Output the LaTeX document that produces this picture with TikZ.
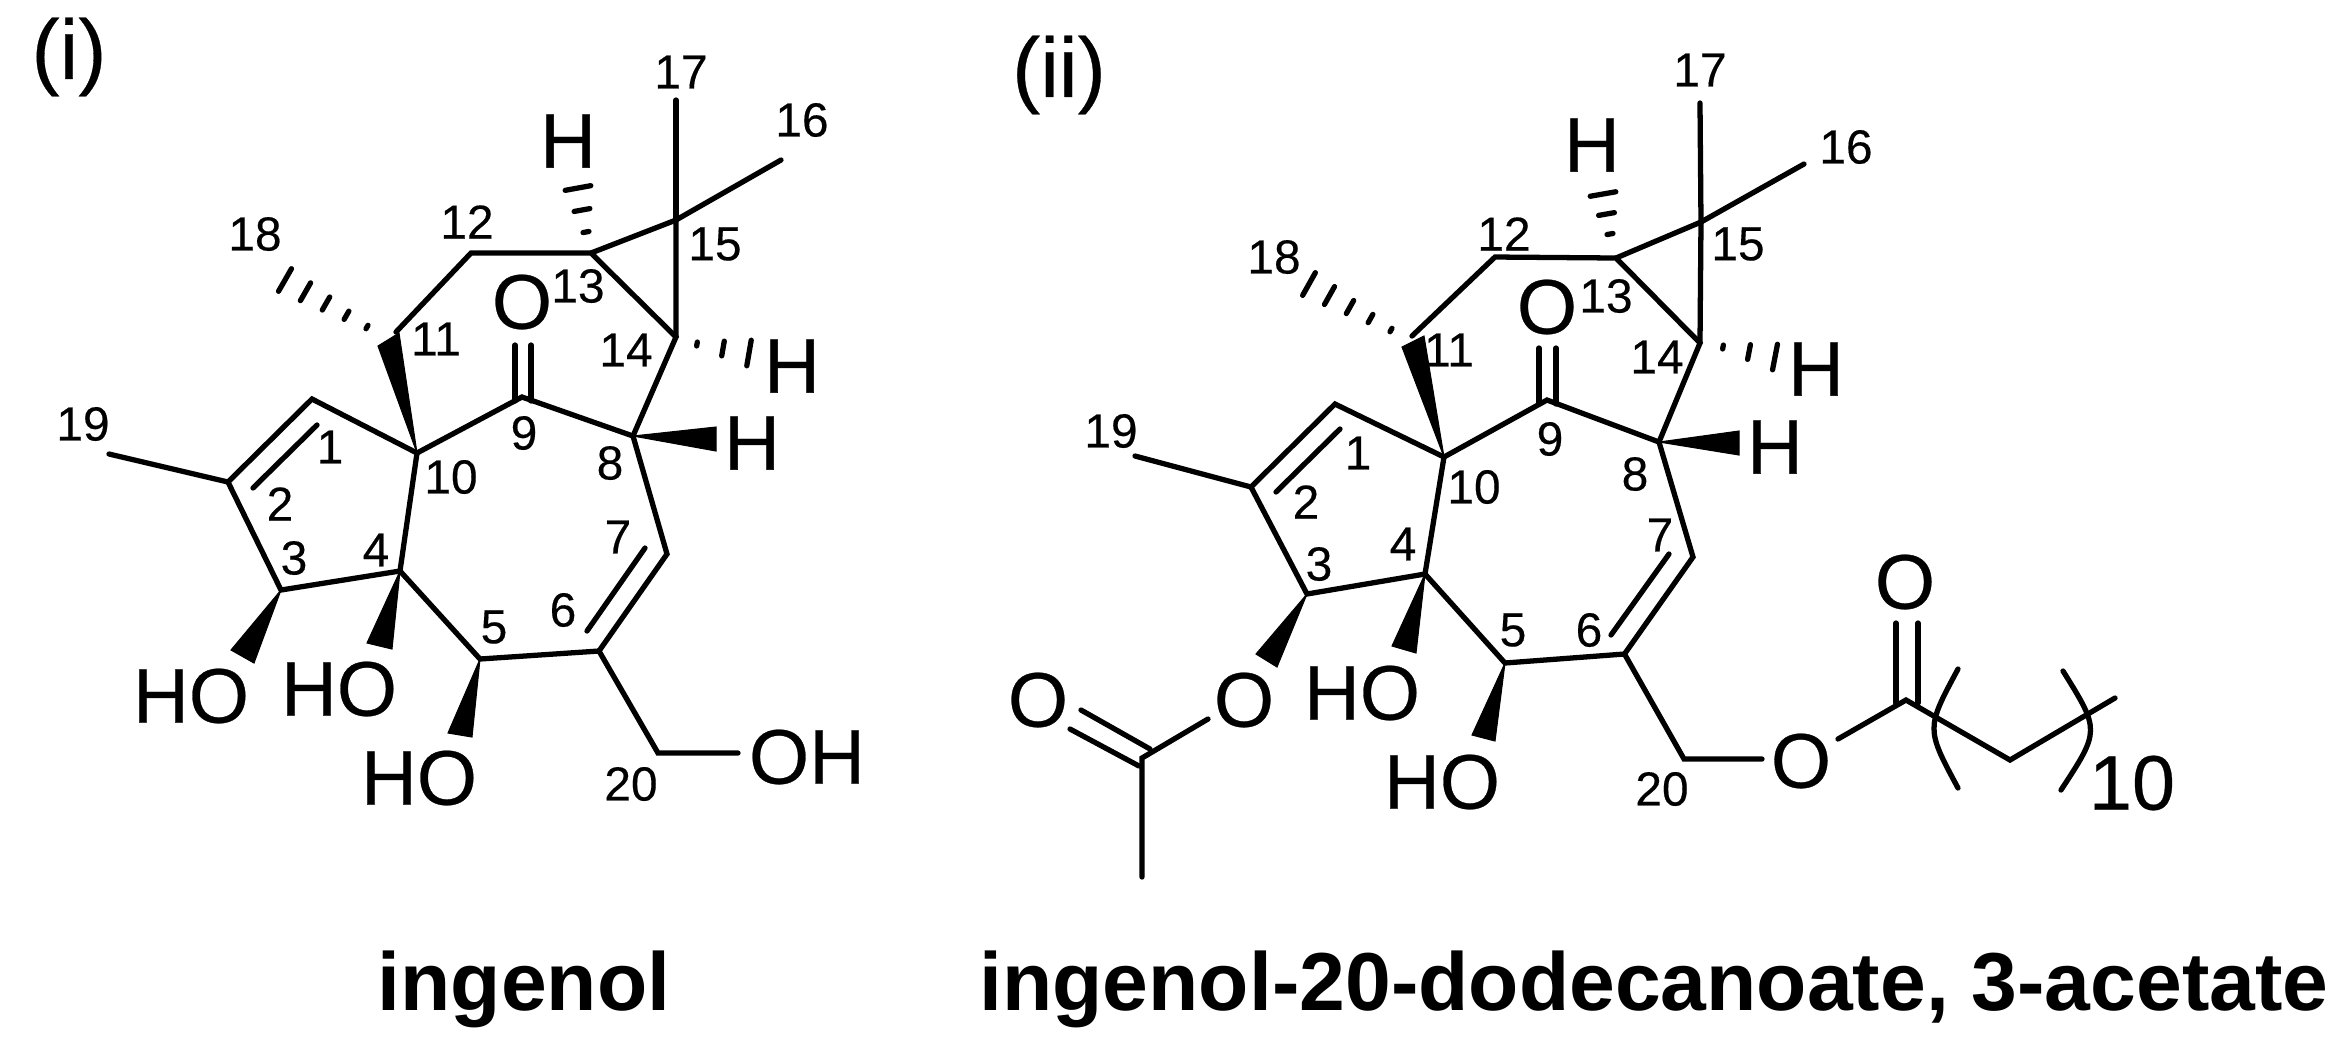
\documentclass[tikz,border=0pt]{standalone}
\usepackage{fontspec}
\setmainfont{Liberation Sans}
\newfontfamily\chemf[FakeBold=0.35]{Liberation Sans}
\usetikzlibrary{calc}
\tikzset{
  lab/.style={inner sep=0pt,font=\chemf\fontsize{13.6}{15}\selectfont},
  big/.style={inner sep=0pt,font=\chemf\fontsize{22}{24}\selectfont},
  tag/.style={inner sep=0pt,font=\chemf\fontsize{24}{26}\selectfont},
  ttl/.style={inner sep=0pt,anchor=base,font=\fontsize{23.4}{26}\selectfont\bfseries},
  bond/.style={line width=1.5pt,line cap=round,line join=miter,black},
  hashstroke/.style={line width=1.5pt,line cap=round,black},
  wedge/.style={fill=black,draw=black,line width=0.3pt,line join=miter},
}
\newcommand\hashbond[5]{%
  \coordinate (tmpc) at ($(#1)!1.5!(#2)$);
  \foreach \k in {0,...,#3}{%
    \pgfmathsetmacro\t{\k/#3/1.5}%
    \pgfmathsetmacro\h{(#4+(#5-#4)*\k/#3)*0.2845}%
    \draw[hashstroke] ($(#1)!\t!(tmpc)!\h pt!90:(tmpc)$) -- ($(#1)!\t!(tmpc)!\h pt!-90:(tmpc)$);
  }%
}
\begin{document}
\begin{tikzpicture}[x=0.01cm,y=-0.01cm]
\useasboundingbox (0,0) rectangle (2347,1050);
% ---------- molecule (i) ----------
\coordinate (a1) at (312,399);
\coordinate (a2) at (228,482);
\coordinate (a3) at (281,590);
\coordinate (a4) at (400,571);
\coordinate (a5) at (480,659);
\coordinate (a6) at (599,651);
\coordinate (a7) at (667,554);
\coordinate (a8) at (633,436);
\coordinate (a9) at (522,397);
\coordinate (a10) at (417,453);
\coordinate (a11) at (396,332);
\coordinate (a12) at (471,253);
\coordinate (a13) at (591,253);
\coordinate (a14) at (676,337);
\coordinate (a15) at (676,220);
\coordinate (a16) at (781,160);
\coordinate (a17) at (676,100);
\coordinate (a19) at (109,454);
\coordinate (a20) at (658,753);
\coordinate (aOH) at (738,753);
\coordinate (ad1a) at (317,425);
\coordinate (ad1b) at (253,488);
\coordinate (ad6a) at (645,548);
\coordinate (ad6b) at (587,631);
\coordinate (aco1a) at (515,345);
\coordinate (aco1b) at (515,401);
\coordinate (aco2a) at (531,345);
\coordinate (aco2b) at (531,401);
\draw[bond] (a10) -- (a1) -- (a2) -- (a3) -- (a4) -- (a10);
\draw[bond] (ad1a) -- (ad1b);
\draw[bond] (a2) -- (a19);
\draw[bond] (a4) -- (a5) -- (a6) -- (a7) -- (a8) -- (a9) -- (a10);
\draw[bond] (ad6a) -- (ad6b);
\draw[bond] (a8) -- (a14) -- (a13) -- (a12) -- (a11);
\draw[bond] (a13) -- (a15) -- (a14);
\draw[bond] (a15) -- (a17);
\draw[bond] (a15) -- (a16);
\draw[bond] (a6) -- (a20) -- (aOH);
\draw[bond] (aco1a) -- (aco1b);
\draw[bond] (aco2a) -- (aco2b);
\coordinate (aw3a) at (231,650); \coordinate (aw3b) at (254,663);
\coordinate (aw4a) at (367,643); \coordinate (aw4b) at (392,649);
\coordinate (aw5a) at (448,733); \coordinate (aw5b) at (472,737);
\coordinate (aw8a) at (716,427); \coordinate (aw8b) at (716,451);
\coordinate (aw11a) at (378,346); \coordinate (aw11b) at (399,333);
\fill[wedge] (a3) -- (aw3a) -- (aw3b) -- cycle;
\fill[wedge] (a4) -- (aw4a) -- (aw4b) -- cycle;
\fill[wedge] (a5) -- (aw5a) -- (aw5b) -- cycle;
\fill[wedge] (a8) -- (aw8a) -- (aw8b) -- cycle;
\fill[wedge] (a10) -- (aw11a) -- (aw11b) -- cycle;
\coordinate (ah18n) at (367,327); \coordinate (ah18f) at (285,280);
\coordinate (ah13n) at (586,232); \coordinate (ah13f) at (578,188);
\coordinate (ah14n) at (697,344); \coordinate (ah14f) at (749,353);
\hashbond{ah18n}{ah18f}{4}{2}{13}
\hashbond{ah13n}{ah13f}{2}{3}{13}
\hashbond{ah14n}{ah14f}{2}{2}{13}
\node[tag] (ti) at (69,57) {(i)};
\node[lab] (al17) at (681,72) {17};
\node[lab] (al16) at (802,120) {16};
\node[big] (aH13) at (568,141) {H};
\node[lab] (al18) at (255,234) {18};
\node[lab] (al12) at (467,222) {12};
\node[lab] (al15) at (715,244) {15};
\node[big] (aO9) at (522,302) {O};
\node[lab] (al13) at (578,286) {13};
\node[lab] (al11) at (436,339) {11};
\node[lab] (al14) at (626,350) {14};
\node[big] (aH14) at (792,366) {H};
\node[lab] (al19) at (83,424) {19};
\node[big] (aH8) at (752,443) {H};
\node[lab] (al1) at (330,447) {1};
\node[lab] (al9) at (524,433) {9};
\node[lab] (al8) at (610,463) {8};
\node[lab] (al10) at (451,477) {10};
\node[lab] (al2) at (280,504) {2};
\node[lab] (al7) at (618,537) {7};
\node[lab] (al3) at (294,558) {3};
\node[lab] (al4) at (376,550) {4};
\node[lab] (al6) at (563,610) {6};
\node[lab] (al5) at (494,627) {5};
\node[big] (aHO3) at (191,696) {HO};
\node[big] (aHO4) at (339,689) {HO};
\node[big] (aHO5) at (419,778) {HO};
\node[big] (aOH20) at (807,757) {OH};
\node[lab] (al20) at (631,784) {20};
\node[ttl] (tA) at (524,1010) {ingenol};
% ---------- molecule (ii) ----------
\coordinate (b1) at (1335,404);
\coordinate (b2) at (1251,487);
\coordinate (b3) at (1307,594);
\coordinate (b4) at (1425,574);
\coordinate (b5) at (1505,663);
\coordinate (b6) at (1624.5,654);
\coordinate (b7) at (1693,557);
\coordinate (b8) at (1659,442);
\coordinate (b9) at (1547,400);
\coordinate (b10) at (1444,457);
\coordinate (b11) at (1412,336);
\coordinate (b12) at (1495,257);
\coordinate (b13) at (1616,258);
\coordinate (b14) at (1700,343);
\coordinate (b15) at (1701,222);
\coordinate (b16) at (1804,164);
\coordinate (b17) at (1700,103);
\coordinate (b19) at (1135,456);
\coordinate (b20) at (1684,759);
\coordinate (bO20e) at (1762,759);
\coordinate (bd1a) at (1340,429);
\coordinate (bd1b) at (1276,492);
\coordinate (bd6a) at (1669,554);
\coordinate (bd6b) at (1611,635);
\coordinate (bco1a) at (1539,348);
\coordinate (bco1b) at (1539,404);
\coordinate (bco2a) at (1556,348);
\coordinate (bco2b) at (1556,404);
\draw[bond] (b10) -- (b1) -- (b2) -- (b3) -- (b4) -- (b10);
\draw[bond] (bd1a) -- (bd1b);
\draw[bond] (b2) -- (b19);
\draw[bond] (b4) -- (b5) -- (b6) -- (b7) -- (b8) -- (b9) -- (b10);
\draw[bond] (bd6a) -- (bd6b);
\draw[bond] (b8) -- (b14) -- (b13) -- (b12) -- (b11);
\draw[bond] (b13) -- (b15) -- (b14);
\draw[bond] (b15) -- (b17);
\draw[bond] (b15) -- (b16);
\draw[bond] (b6) -- (b20) -- (bO20e);
\draw[bond] (bco1a) -- (bco1b);
\draw[bond] (bco2a) -- (bco2b);
\coordinate (bw3a) at (1256,654); \coordinate (bw3b) at (1277,667);
\coordinate (bw4a) at (1392,646); \coordinate (bw4b) at (1416,653);
\coordinate (bw5a) at (1472,735); \coordinate (bw5b) at (1495,741);
\coordinate (bw8a) at (1739,431); \coordinate (bw8b) at (1739,455);
\coordinate (bw11a) at (1402,347); \coordinate (bw11b) at (1424,336);
\fill[wedge] (b3) -- (bw3a) -- (bw3b) -- cycle;
\fill[wedge] (b4) -- (bw4a) -- (bw4b) -- cycle;
\fill[wedge] (b5) -- (bw5a) -- (bw5b) -- cycle;
\fill[wedge] (b8) -- (bw8a) -- (bw8b) -- cycle;
\fill[wedge] (b10) -- (bw11a) -- (bw11b) -- cycle;
\coordinate (bh18n) at (1391,330); \coordinate (bh18f) at (1309,284);
\coordinate (bh13n) at (1610,234); \coordinate (bh13f) at (1603,194);
\coordinate (bh14n) at (1723,347); \coordinate (bh14f) at (1775,357);
\hashbond{bh18n}{bh18f}{4}{2}{13}
\hashbond{bh13n}{bh13f}{2}{3}{13}
\hashbond{bh14n}{bh14f}{2}{2}{13}
% acetate
\coordinate (cAc) at (1142,758);
\coordinate (cAcO) at (1208,719);
\coordinate (cMe) at (1142,877);
\coordinate (cAd1a) at (1139,766);
\coordinate (cAd1b) at (1070,729);
\coordinate (cAd2a) at (1150,749);
\coordinate (cAd2b) at (1081,710);
\draw[bond] (cAcO) -- (cAc) -- (cMe);
\draw[bond] (cAd1a) -- (cAd1b);
\draw[bond] (cAd2a) -- (cAd2b);
% dodecanoate
\coordinate (eO) at (1838,739);
\coordinate (eC) at (1906,700);
\coordinate (eC2) at (2010,760);
\coordinate (eC3) at (2115,698);
\coordinate (ed1a) at (1896,623);
\coordinate (ed1b) at (1896,703);
\coordinate (ed2a) at (1918,623);
\coordinate (ed2b) at (1918,703);
\coordinate (ep1) at (1958,669);
\coordinate (ep1b) at (1958,788);
\coordinate (ep2) at (2063,671);
\coordinate (ep2b) at (2061,790);
\draw[bond] (eO) -- (eC) -- (eC2) -- (eC3);
\draw[bond] (ed1a) -- (ed1b);
\draw[bond] (ed2a) -- (ed2b);
\draw[bond] (ep1) .. controls ($(ep1)!0.5!(ep1b)+(-32,0)$) .. (ep1b);
\draw[bond] (ep2) .. controls ($(ep2)!0.5!(ep2b)+(38,0)$) .. (ep2b);
\node[tag] (tii) at (1059,75) {(ii)};
\node[lab] (bl17) at (1700,70) {17};
\node[lab] (bl16) at (1846,147) {16};
\node[big] (bH13) at (1592,145) {H};
\node[lab] (bl18) at (1274,257) {18};
\node[lab] (bl12) at (1504,234) {12};
\node[lab] (bl15) at (1738,244) {15};
\node[big] (bO9) at (1547,307) {O};
\node[lab] (bl13) at (1606,296) {13};
\node[lab] (bl11) at (1449,350) {11};
\node[lab] (bl14) at (1657,357) {14};
\node[big] (bH14) at (1816,369) {H};
\node[lab] (bl19) at (1111,431) {19};
\node[big] (bH8) at (1775,447) {H};
\node[lab] (bl1) at (1358,453) {1};
\node[lab] (bl9) at (1550,439) {9};
\node[lab] (bl8) at (1635,474) {8};
\node[lab] (bl10) at (1474,487) {10};
\node[lab] (bl2) at (1306,502) {2};
\node[lab] (bl7) at (1660,535) {7};
\node[lab] (bl3) at (1319,564) {3};
\node[lab] (bl4) at (1403,544) {4};
\node[lab] (bl6) at (1589,630) {6};
\node[lab] (bl5) at (1513,630) {5};
\node[big] (bO3) at (1244,700) {O};
\node[big] (bOAc) at (1038,700) {O};
\node[big] (bHO4) at (1362,693) {HO};
\node[big] (bHO5) at (1442,782) {HO};
\node[lab] (bl20) at (1662,789) {20};
\node[big] (bO20) at (1801,761) {O};
\node[big] (bOe) at (1905,582) {O};
\node[big] (bn10) at (2132,783) {10};
\node[ttl] (tB) at (1654,1010) {ingenol-20-dodecanoate, 3-acetate};
\end{tikzpicture}
\end{document}
